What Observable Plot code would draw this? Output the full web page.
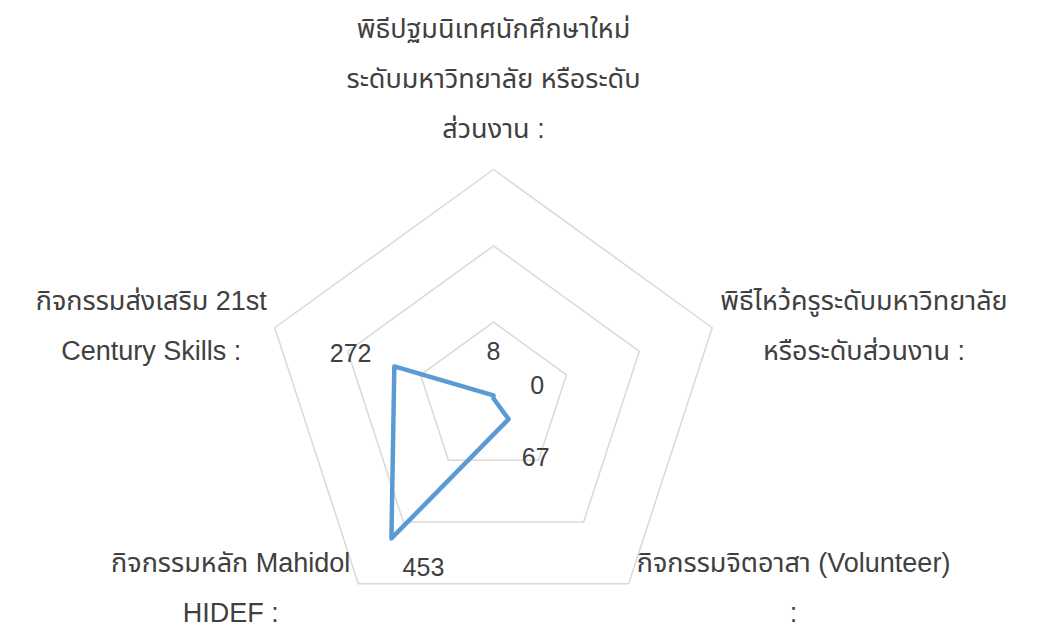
<!DOCTYPE html>
<html><head><meta charset="utf-8">
<script src="https://cdn.jsdelivr.net/npm/d3@7"></script>
<script src="https://cdn.jsdelivr.net/npm/@observablehq/plot@0.6"></script>
<style>html,body{margin:0;padding:0;background:#fff;} #chart svg{display:block}</style>
</head><body><div id="chart"></div>
<script>
// ---- data ----
const categories = [
  "พิธีปฐมนิเทศนักศึกษาใหม่\nระดับมหาวิทยาลัย หรือระดับ\nส่วนงาน :",
  "พิธีไหว้ครูระดับมหาวิทยาลัย\nหรือระดับส่วนงาน :",
  "กิจกรรมจิตอาสา (Volunteer)\n:",
  "กิจกรรมหลัก Mahidol\nHIDEF :",
  "กิจกรรมส่งเสริม 21st\nCentury Skills :"
];
const values = [8, 0, 67, 453, 272];
const gridTicks = [200, 400, 600];

// ---- layout / style ----
const W = 1051, H = 627;
const maxV = 600;
const FONT = "'Liberation Sans', 'Noto Sans Thai', Arial, sans-serif";
const catSize = 27, valSize = 25;
const textColor = "#404040";
const n = categories.length;
const angle = i => 2 * Math.PI * i / n;
const polar = (v, i) => ({x: v * Math.sin(angle(i)), y: v * Math.cos(angle(i))});

const marginLeft = 263, marginRight = W - 493 - 230, marginTop = 169, marginBottom = 0;
const pxPerUnit = (W - marginLeft - marginRight) / (2 * maxV);

const ringData = gridTicks.flatMap(t =>
  d3.range(n + 1).map(i => ({ring: t, ...polar(t, i % n)})));
const seriesData = d3.range(n + 1).map(i => polar(values[i % n], i % n));

const labelOffsetPx = 46;
const valueLabels = values.map((v, i) => {
  const p = polar(v, i);
  const a = angle(i);
  let ox = Math.sin(a) * labelOffsetPx, oy = Math.cos(a) * labelOffsetPx - 2;
  if (i === 3) { ox = 32; oy = -30; } // label nudged right of point, as in source
  return {x: p.x + ox / pxPerUnit, y: p.y + oy / pxPerUnit, text: String(v)};
});

const ctx = document.createElement("canvas").getContext("2d");
ctx.font = `${catSize}px ${FONT}`;
const lineH = 50;
const gap = 8;
const catMarks = categories.map((c, i) => {
  const lines = c.split("\n");
  const w = d3.max(lines, l => ctx.measureText(l).width);
  const a = angle(i);
  const s = Math.sin(a), co = Math.cos(a);
  let dx = 0, dy = 0;
  if (Math.abs(s) < 0.1) {
    dy = -((lines.length * lineH) / 2 + 14) - 9;
  } else {
    dx = (s > 0 ? 1 : -1) * (w / 2 + gap);
    dy = co < 0 ? -3 : -9;
  }
  const p = polar(maxV, i);
  return Plot.text([{...p, text: c}], {
    x: "x", y: "y", text: "text", dx, dy,
    fontSize: catSize, lineHeight: lineH / catSize, fill: textColor,
    textAnchor: "middle", fontFamily: FONT
  });
});

const chart = Plot.plot({
  width: W, height: H,
  marginLeft, marginRight, marginTop, marginBottom,
  x: {domain: [-maxV, maxV], axis: null},
  y: {domain: [-maxV, maxV], axis: null},
  style: {fontFamily: FONT, background: "#fff"},
  marks: [
    Plot.line(ringData, {x: "x", y: "y", z: "ring", stroke: "#d9d9d9", strokeWidth: 1.5}),
    Plot.line(seriesData, {x: "x", y: "y", stroke: "#5b9bd5", strokeWidth: 4.5, strokeLinejoin: "round", strokeLinecap: "round"}),
    Plot.text(valueLabels, {x: "x", y: "y", text: "text", fontSize: valSize, fill: textColor, fontFamily: FONT}),
    ...catMarks
  ]
});
document.getElementById("chart").append(chart);
</script>
</body></html>
